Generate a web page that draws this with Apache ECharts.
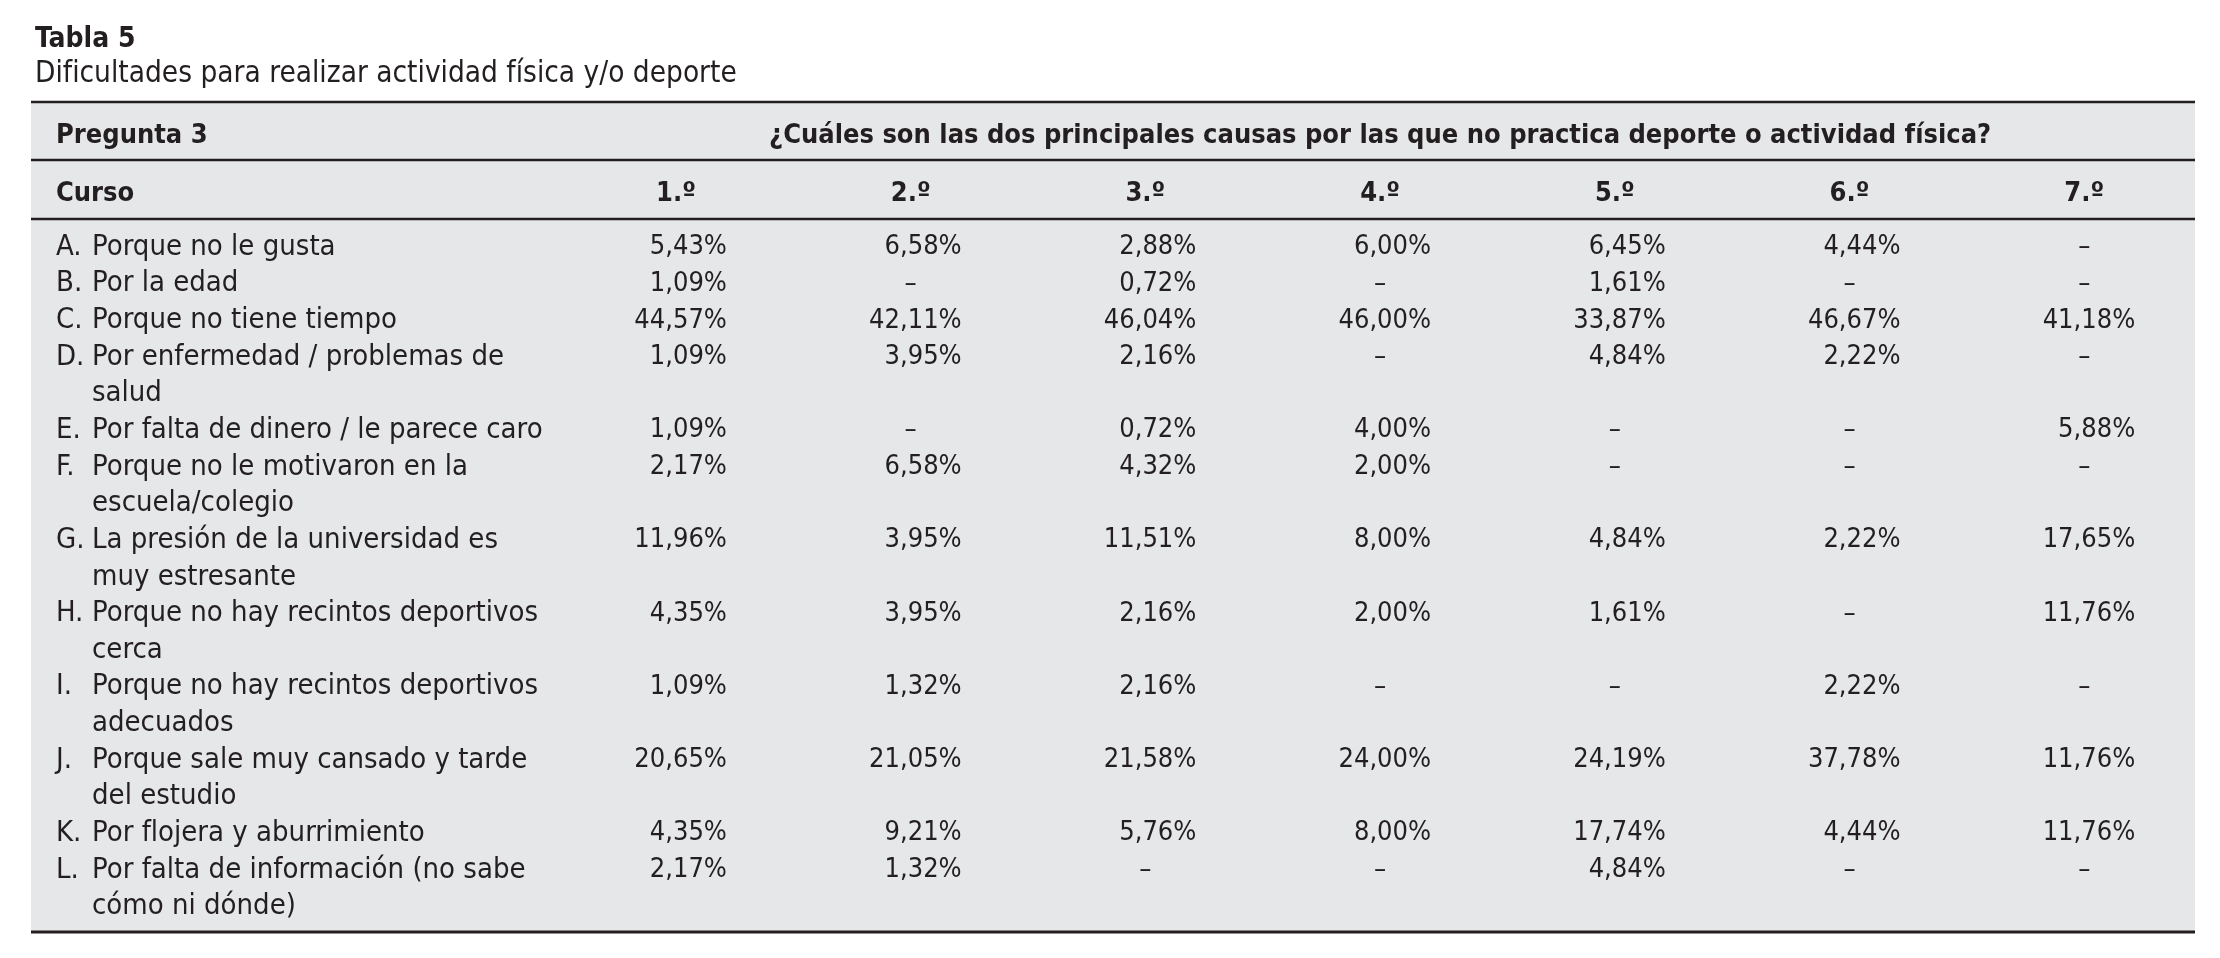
<!DOCTYPE html>
<html lang="es">
<head>
    <meta charset="UTF-8">
    <title>Tabla 5</title>
    <script src="https://cdn.jsdelivr.net/npm/echarts@6/dist/echarts.min.js"></script>
    <style>html, body { margin: 0; background: #fff; }</style>
</head>
<body>
<div id="main" style="width: 2220px; height: 958px"></div>
<script type="text/javascript">
    var courses = ['1.º', '2.º', '3.º', '4.º', '5.º', '6.º', '7.º'];
    var letters = ['A', 'B', 'C', 'D', 'E', 'F', 'G', 'H', 'I', 'J', 'K', 'L'];
    var causes = [
        ['Porque no le gusta'],
        ['Por la edad'],
        ['Porque no tiene tiempo'],
        ['Por enfermedad / problemas de', 'salud'],
        ['Por falta de dinero / le parece caro'],
        ['Porque no le motivaron en la', 'escuela/colegio'],
        ['La presión de la universidad es', 'muy estresante'],
        ['Porque no hay recintos deportivos', 'cerca'],
        ['Porque no hay recintos deportivos', 'adecuados'],
        ['Porque sale muy cansado y tarde', 'del estudio'],
        ['Por flojera y aburrimiento'],
        ['Por falta de información (no sabe', 'cómo ni dónde)']
    ];
    // null = "–"
    var curso1 = [5.43, 1.09, 44.57, 1.09, 1.09, 2.17, 11.96, 4.35, 1.09, 20.65, 4.35, 2.17];
    var curso2 = [6.58, null, 42.11, 3.95, null, 6.58, 3.95, 3.95, 1.32, 21.05, 9.21, 1.32];
    var curso3 = [2.88, 0.72, 46.04, 2.16, 0.72, 4.32, 11.51, 2.16, 2.16, 21.58, 5.76, null];
    var curso4 = [6.00, null, 46.00, null, 4.00, 2.00, 8.00, 2.00, null, 24.00, 8.00, null];
    var curso5 = [6.45, 1.61, 33.87, 4.84, null, null, 4.84, 1.61, null, 24.19, 17.74, 4.84];
    var curso6 = [4.44, null, 46.67, 2.22, null, null, 2.22, null, 2.22, 37.78, 4.44, null];
    var curso7 = [null, null, 41.18, null, 5.88, null, 17.65, 11.76, null, 11.76, 11.76, null];
    var values = [curso1, curso2, curso3, curso4, curso5, curso6, curso7];

    var headerRows = ['Pregunta 3', 'Curso'];
    var question = '¿Cuáles son las dos principales causas por las que no practica deporte o actividad física?';

    var FONT = "'Liberation Sans Narrow', 'DejaVu Sans Condensed', sans-serif";
    var INK = '#231f20';
    var FS = 29;      // row labels
    var FS_NUM = 27;  // percentages
    var FS_HEAD = 27; // bold headers

    // one category per printed line, so wrapped causes take two slots
    var lineIds = [], lineText = {}, firstLine = [];
    causes.forEach(function (lines, r) {
        firstLine.push(lineIds.length);
        lines.forEach(function (txt, j) {
            var id = letters[r] + j;
            lineIds.push(id);
            lineText[id] = { letter: j === 0 ? letters[r] + '.' : null, text: txt };
        });
    });

    var numbers = [], dashes = [];
    values.forEach(function (col, c) {
        col.forEach(function (v, r) {
            if (v === null) dashes.push([c, firstLine[r]]);
            else numbers.push([c, firstLine[r], v]);
        });
    });

    var gridLeft = 558.6, gridRight = 18.4;
    var labelMargin = gridLeft - 56;
    var hidden = { color: 'transparent', opacity: 1 };

    var myChart = echarts.init(document.getElementById('main'));
    var option = {
        animation: false,
        backgroundColor: '#fff',
        textStyle: { fontFamily: FONT, color: INK },
        title: {
            text: 'Tabla 5',
            subtext: 'Dificultades para realizar actividad física y/o deporte',
            left: 30,
            top: 21,
            itemGap: 5,
            textStyle: { fontFamily: FONT, fontSize: 28, fontWeight: 'bold', color: INK },
            subtextStyle: { fontFamily: FONT, fontSize: 29.5, color: INK }
        },
        graphic: [
            { type: 'rect', z: -10, shape: { x: 31, y: 102, width: 2164, height: 830 }, style: { fill: '#e6e7e9' } },
            { type: 'line', z: 10, shape: { x1: 31, y1: 102, x2: 2195, y2: 102 }, style: { stroke: INK, lineWidth: 2.5 } },
            { type: 'line', z: 10, shape: { x1: 31, y1: 160, x2: 2195, y2: 160 }, style: { stroke: INK, lineWidth: 2.5 } },
            { type: 'line', z: 10, shape: { x1: 31, y1: 219, x2: 2195, y2: 219 }, style: { stroke: INK, lineWidth: 2.5 } },
            { type: 'line', z: 10, shape: { x1: 31, y1: 932, x2: 2195, y2: 932 }, style: { stroke: INK, lineWidth: 3 } }
        ],
        grid: [
            { left: gridLeft, right: gridRight, top: 107, height: 116 },
            { left: gridLeft, right: gridRight, top: 229, height: 696 }
        ],
        xAxis: [
            { type: 'category', gridIndex: 0, data: courses, show: false },
            { type: 'category', gridIndex: 1, data: courses, show: false }
        ],
        yAxis: [
            {
                type: 'category', gridIndex: 0, data: headerRows, inverse: true,
                axisLine: { show: false }, axisTick: { show: false }, splitLine: { show: false },
                axisLabel: {
                    interval: 0, align: 'left', margin: labelMargin,
                    fontFamily: FONT, fontSize: FS_HEAD, fontWeight: 'bold', color: INK
                }
            },
            {
                type: 'category', gridIndex: 1, data: lineIds, inverse: true,
                axisLine: { show: false }, axisTick: { show: false }, splitLine: { show: false },
                axisLabel: {
                    interval: 0, align: 'left', margin: labelMargin,
                    fontFamily: FONT, fontSize: FS, color: INK,
                    formatter: function (id) {
                        var t = lineText[id];
                        return t.letter ? '{l|' + t.letter + '}{t|' + t.text + '}' : '{c|' + t.text + '}';
                    },
                    rich: {
                        l: { width: 36, fontFamily: FONT, fontSize: FS, color: INK },
                        t: { fontFamily: FONT, fontSize: FS, color: INK },
                        c: { padding: [0, 0, 0, 36], fontFamily: FONT, fontSize: FS, color: INK }
                    }
                }
            }
        ],
        series: [
            {
                type: 'scatter', xAxisIndex: 0, yAxisIndex: 0, symbolSize: 1, silent: true,
                itemStyle: hidden,
                data: [[3, 0]],
                label: {
                    show: true, position: 'inside', formatter: question,
                    fontFamily: FONT, fontSize: FS_HEAD, fontWeight: 'bold', color: INK
                }
            },
            {
                type: 'scatter', xAxisIndex: 0, yAxisIndex: 0, symbolSize: 1, silent: true,
                itemStyle: hidden,
                data: courses.map(function (c, i) { return [i, 1, c]; }),
                label: {
                    show: true, position: 'inside',
                    formatter: function (p) { return p.value[2]; },
                    fontFamily: FONT, fontSize: FS_HEAD, fontWeight: 'bold', color: INK
                }
            },
            {
                type: 'scatter', xAxisIndex: 1, yAxisIndex: 1, symbolSize: 1, silent: true,
                itemStyle: hidden,
                data: numbers,
                label: {
                    show: true, position: 'inside', align: 'right', offset: [51, 0],
                    formatter: function (p) { return p.value[2].toFixed(2).replace('.', ',') + '%'; },
                    fontFamily: FONT, fontSize: FS_NUM, color: INK
                }
            },
            {
                type: 'scatter', xAxisIndex: 1, yAxisIndex: 1, symbolSize: 1, silent: true,
                itemStyle: hidden,
                data: dashes,
                label: {
                    show: true, position: 'inside', formatter: '–',
                    fontFamily: FONT, fontSize: FS_NUM, color: INK
                }
            }
        ]
    };
    myChart.setOption(option);
</script>
</body>
</html>
